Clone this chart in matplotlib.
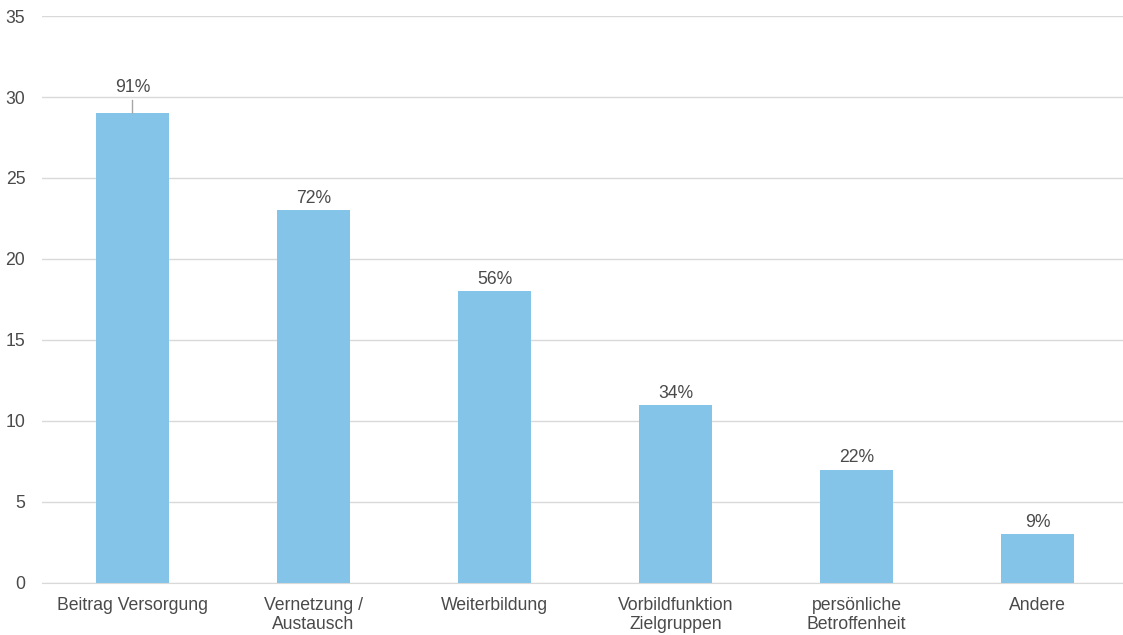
import matplotlib.pyplot as plt
import numpy as np

plt.rcParams['font.family'] = ['Liberation Sans', 'DejaVu Sans']

categories = ['Beitrag Versorgung', 'Vernetzung /\nAustausch', 'Weiterbildung',
              'Vorbildfunktion\nZielgruppen', 'persönliche\nBetroffenheit', 'Andere']
counts = [29, 23, 18, 11, 7, 3]
percent_labels = ['91%', '72%', '56%', '34%', '22%', '9%']

text_color = '#4a4a4a'
bar_color = '#83C4E8'

fig = plt.figure(figsize=(11.23, 6.35), dpi=100)
ax = fig.add_axes([0.0374, 0.0819, 0.967, 0.8929])

x = np.arange(len(categories))
ax.bar(x, counts, width=0.4, color=bar_color, zorder=3)

for i, (c, lab) in enumerate(zip(counts, percent_labels)):
    if i == 0:
        # label moved up with a leader line
        ax.annotate(lab, xy=(i, c), xytext=(i, c + 1.05), ha='center', va='bottom',
                    fontsize=12.7, color=text_color,
                    arrowprops=dict(arrowstyle='-', color='#a6a6a6', lw=1,
                                    shrinkA=1, shrinkB=0))
    else:
        ax.text(i, c + 0.2, lab, ha='center', va='bottom', fontsize=12.7, color=text_color)

ax.set_xlim(-0.5, 5.5)
ax.set_ylim(0, 35)
ax.set_yticks(np.arange(0, 36, 5))
ax.set_xticks(x)
ax.set_xticklabels(categories, linespacing=1.15)
ax.tick_params(axis='both', length=0, labelsize=12.7, colors=text_color)
ax.tick_params(axis='x', pad=10)
ax.tick_params(axis='y', pad=12)
ax.grid(axis='y', color='#d9d9d9', lw=1, zorder=0)
for s in ['top', 'right', 'left']:
    ax.spines[s].set_visible(False)
ax.spines['bottom'].set_color('#d9d9d9')

fig.savefig('out.png', dpi=100)
